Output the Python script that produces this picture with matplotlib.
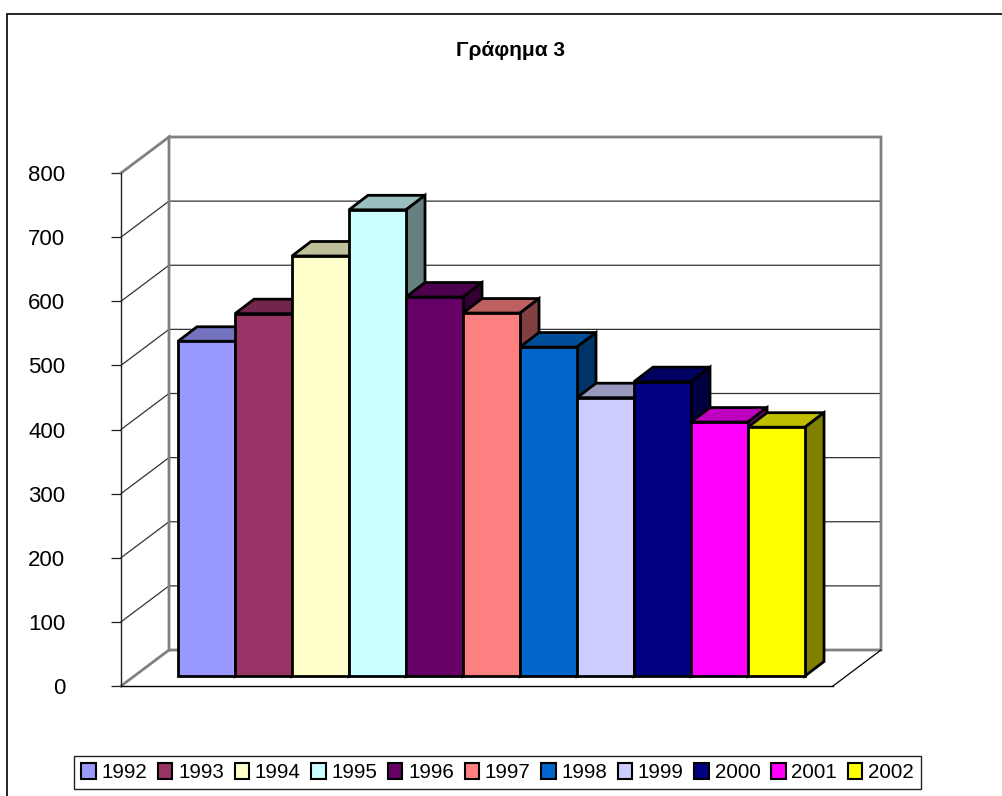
import matplotlib
matplotlib.use("Agg")
import matplotlib.pyplot as plt
from matplotlib.patches import Polygon, Patch, Rectangle
from matplotlib.colors import to_rgb

plt.rcParams['font.family'] = ['Liberation Sans', 'DejaVu Sans']

years = ['1992', '1993', '1994', '1995', '1996', '1997', '1998', '1999', '2000', '2001', '2002']
values = [522, 565, 655, 727, 591, 566, 513, 434, 459, 396, 388]
colors = ['#9999FF', '#993366', '#FFFFCC', '#CCFFFF', '#660066', '#FF8080',
          '#0066CC', '#CCCCFF', '#000080', '#FF00FF', '#FFFF00']
y_ticks = [0, 100, 200, 300, 400, 500, 600, 700, 800]
title = 'Γράφημα 3'

W, H = 1003, 796
fig = plt.figure(figsize=(W / 100, H / 100), dpi=100, facecolor='white')
ax = fig.add_axes([121 / W, (H - 686) / H, 712 / W, 513 / H])
ax.set_xlim(-1.0, 11.491)
ax.set_ylim(0, 800)
ax.patch.set_visible(False)

# outer chart frame, running off the right and bottom edges
fig.add_artist(Rectangle((7.5 / W, -0.05), 1.2, (H - 14) / H + 0.05, transform=fig.transFigure,
                         fill=False, ec='black', lw=1.2))

# depth of the box and of the bars, in axis units
wall_dx, wall_dy = 48 / 57, 36 / 0.64125
bar_dx, bar_dy = 19 / 57, 14.5 / 0.64125
bar_base = 10 / 0.64125
x0, x1 = -1.0, 11.491
GRAY = '#808080'

# gridlines on side and back walls
for t in y_ticks[1:-1]:
    ax.plot([x0, x0 + wall_dx, x1 + wall_dx], [t, t + wall_dy, t + wall_dy],
            color='#333333', lw=0.9, clip_on=False, zorder=1)

# box outline
ax.plot([x0, x0 + wall_dx, x0 + wall_dx], [800, 800 + wall_dy, wall_dy],
        color=GRAY, lw=2, clip_on=False, zorder=2, solid_joinstyle='miter')
ax.plot([x0 + wall_dx, x1 + wall_dx, x1 + wall_dx, x0 + wall_dx, x0],
        [800 + wall_dy, 800 + wall_dy, wall_dy, wall_dy, 0],
        color=GRAY, lw=2, clip_on=False, zorder=2, solid_joinstyle='miter')
ax.plot([x1, x1 + wall_dx], [0, wall_dy], color='black', lw=0.9, clip_on=False, zorder=2)

# bars, left to right so each one overlaps its neighbour's side face
def shade(c, f):
    return tuple(v * f for v in to_rgb(c))

z = 3
for i, (v, c) in enumerate(zip(values, colors)):
    left, right = i, i + 1
    bottom, top = bar_base, bar_base + v
    kw = dict(ec='black', lw=2, joinstyle='miter', clip_on=False, zorder=z)
    ax.add_patch(Polygon([(left, top), (left + bar_dx, top + bar_dy),
                          (right + bar_dx, top + bar_dy), (right, top)],
                         fc=shade(c, 0.75), **kw))
    ax.add_patch(Polygon([(right, bottom), (right + bar_dx, bottom + bar_dy),
                          (right + bar_dx, top + bar_dy), (right, top)],
                         fc=shade(c, 0.5), **kw))
    ax.add_patch(Polygon([(left, bottom), (right, bottom), (right, top), (left, top)],
                         fc=c, **kw))
    z += 1

for s in ('top', 'right'):
    ax.spines[s].set_visible(False)
ax.spines['left'].set_color('#222222')
ax.spines['bottom'].set_color('black')
ax.spines['left'].set_linewidth(1.0)
ax.spines['bottom'].set_linewidth(1.0)
ax.set_xticks([])
ax.set_yticks(y_ticks)
ax.tick_params(axis='y', length=7.2, width=0.9, color='#222222', labelsize=16, pad=33)
for s in ax.spines.values():
    s.set_zorder(2)

fig.text(511 / W, (H - 50) / H, title, ha='center', va='center', fontsize=15, fontweight='bold')

handles = [Patch(fc=c, ec='black', lw=1.5, label=y) for y, c in zip(years, colors)]
leg = fig.legend(handles=handles, ncol=len(years), loc='center',
                 bbox_to_anchor=(497.5 / W, (H - 772.5) / H), frameon=True, fancybox=False,
                 edgecolor='#222222', framealpha=1, fontsize=14.8,
                 handlelength=0.7, handleheight=0.8, handletextpad=0.28,
                 columnspacing=0.52, borderpad=0.36, borderaxespad=0)
leg.get_frame().set_linewidth(1.0)

fig.savefig('out.png', dpi=100)
